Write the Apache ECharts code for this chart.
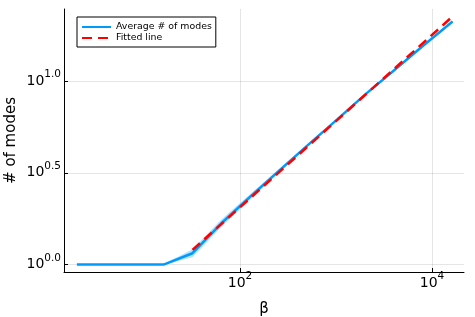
<!DOCTYPE html>
<html><head><meta charset="utf-8">
<script src="https://cdn.jsdelivr.net/npm/echarts@6/dist/echarts.min.js"></script>
<style>html,body{margin:0;padding:0;background:#fff}#c{width:475px;height:317px}</style>
</head><body><div id="c"></div>
<script>
const betas = [2,4,8,16,32,64,128,256,512,1024,2048,4096,8192,16384];
const avgModes = [1,1,1,1,1.153,1.679,2.344,3.251,4.487,6.166,8.511,11.53,15.67,21.13];
const avgLower = [1,1,1,0.995,1.096,1.603,2.264,3.177,4.415,6.096,8.433,11.43,15.56,20.98];
const avgUpper = [1,1,1,1.005,1.213,1.758,2.426,3.326,4.559,6.237,8.590,11.64,15.78,21.28];
const fitBetas = [32,16384];
const fitModes = [1.202,22.49];
const xTickValues = [100,10000];
const yTickValues = [1,3.16227766,10];

const FONT = 'DejaVu Sans';
const chart = echarts.init(document.getElementById('c'));
const supRich = {
  b:{fontSize:14,fontFamily:FONT,color:'#000',lineHeight:14,verticalAlign:'bottom'},
  s:{fontSize:10.5,fontFamily:FONT,color:'#000',lineHeight:10,padding:[0,0,8,0],verticalAlign:'bottom'}
};
function expLabel(v, digits){
  const e = Math.log10(v);
  return '{b|10}{s|' + (Math.round(e*10)/10).toFixed(digits) + '}';
}
chart.setOption({
  animation:false,
  backgroundColor:'#fff',
  textStyle:{fontFamily:FONT},
  grid:{left:64,top:9,width:400,height:263,containLabel:false,outerBoundsMode:'none'},
  legend:{
    data:['Average # of modes','Fitted line'],
    orient:'vertical',left:77,top:17,
    borderColor:'#000',borderWidth:1,borderRadius:0,backgroundColor:'#fff',
    padding:[5,4,4,4],itemGap:1,itemWidth:29,itemHeight:10,
    textStyle:{fontSize:9.4,fontFamily:FONT,color:'#000',lineHeight:10},
    itemStyle:{opacity:0}
  },
  xAxis:{
    type:'log',logBase:10,min:1.468,max:21544,
    name:'β',nameLocation:'middle',nameGap:30,nameMoveOverlap:false,
    nameTextStyle:{fontSize:15,fontFamily:FONT,color:'#000'},
    axisLine:{onZero:false,lineStyle:{color:'#000',width:1}},
    axisTick:{inside:true,length:4,lineStyle:{color:'#000'},customValues:xTickValues},
    axisLabel:{customValues:xTickValues,margin:4,formatter:v=>expLabel(v,0),rich:supRich},
    splitLine:{show:true,lineStyle:{color:'rgba(0,0,0,0.1)',width:1}},
    minorTick:{show:false},minorSplitLine:{show:false}
  },
  yAxis:{
    type:'log',logBase:10,min:0.9109,max:24.70,
    name:'# of modes',nameLocation:'middle',nameRotate:90,nameGap:45,nameMoveOverlap:false,
    nameTextStyle:{fontSize:15,fontFamily:FONT,color:'#000'},
    axisLine:{onZero:false,lineStyle:{color:'#000',width:1}},
    axisTick:{inside:true,length:4,lineStyle:{color:'#000'},customValues:yTickValues},
    axisLabel:{customValues:yTickValues,margin:3,formatter:v=>expLabel(v,1),rich:supRich},
    splitLine:{show:true,lineStyle:{color:'rgba(0,0,0,0.1)',width:1}},
    minorTick:{show:false},minorSplitLine:{show:false}
  },
  series:[
    {
      name:'ribbon',type:'custom',silent:true,
      data:betas.map((b,i)=>[b,avgLower[i],avgUpper[i]]),
      encode:{x:0,y:[1,2]},
      renderItem:function(params, api){
        if(params.dataIndex!==0) return;
        const pts=[];
        for(let i=0;i<betas.length;i++) pts.push(api.coord([betas[i],avgUpper[i]]));
        for(let i=betas.length-1;i>=0;i--) pts.push(api.coord([betas[i],avgLower[i]]));
        return {type:'polygon',shape:{points:pts},style:{fill:'rgba(0,154,250,0.3)'}};
      },
      z:1
    },
    {
      name:'Average # of modes',type:'line',
      data:betas.map((b,i)=>[b,avgModes[i]]),
      symbol:'none',showSymbol:false,
      lineStyle:{color:'#009AFA',width:2.5},itemStyle:{color:'#009AFA'},z:2
    },
    {
      name:'Fitted line',type:'line',
      data:fitBetas.map((b,i)=>[b,fitModes[i]]),
      symbol:'none',showSymbol:false,
      lineStyle:{color:'#FF0000',width:2.5,type:[10,6]},itemStyle:{color:'#FF0000'},z:3
    }
  ]
});
</script></body></html>
